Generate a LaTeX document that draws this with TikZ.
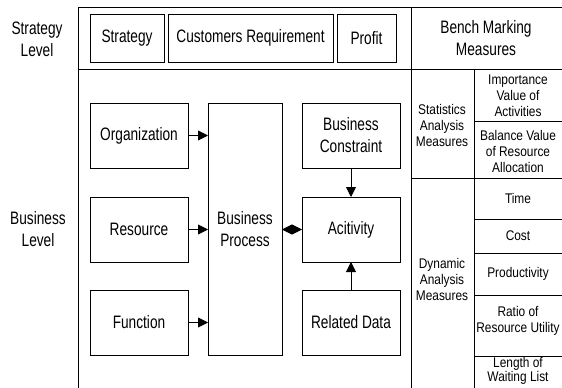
\documentclass[tikz,border=0pt]{standalone}
\usepackage{fontspec}
\setmainfont{Liberation Sans}[FakeStretch=0.76]
\newfontfamily\narrowfont{Liberation Sans}[FakeStretch=0.85]
\usepackage{tikz}
\usetikzlibrary{shapes, arrows.meta, positioning}

\newcommand{\bigtxt}{\fontsize{18}{22}\selectfont}
\newcommand{\smalltxt}{\narrowfont\fontsize{14}{16}\selectfont}
\newcommand{\tighttxt}{\narrowfont\fontsize{14}{14}\selectfont}

\tikzset{
  box/.style={draw, inner sep=0pt, outer sep=0pt, align=center, font=\bigtxt},
  label/.style={inner sep=0pt, align=center, font=\bigtxt},
  cell/.style={inner sep=0pt, align=center, font=\smalltxt},
  tip/.tip={Triangle[length=10pt,width=10pt]},
  link/.style={-tip},
}

\begin{document}
\begin{tikzpicture}[x=1pt, y=-1pt, line width=0.9pt]
        \useasboundingbox (0,0) rectangle (562,388);

        % frame and table lines
        \draw (562,7) -- (78,7) -- (78,388);
        \draw (78,69) -- (562,69);
        \draw (411,7) -- (411,388);
        \draw (474,69) -- (474,388);
        \draw (411,178) -- (562,178);
        \foreach \y in {121,219,253,295,356}
            \draw (474,\y) -- (562,\y);

        % level labels
        \node[label] (stratlvl) at (37,39) {Strategy\\Level};
        \node[label] (buslvl) at (38,229) {Business\\Level};

        % strategy level
        \node[box, minimum width=74, minimum height=48] (strat) at (127,38) {Strategy};
        \node[box, minimum width=165, minimum height=48] (cust) at (250.5,38) {Customers Requirement};
        \node[box, minimum width=59, minimum height=48] (profit) at (366.5,38) {Profit};

        % business level
        \node[box, minimum width=98, minimum height=65] (org) at (139,135.5) {Organization};
        \node[box, minimum width=98, minimum height=65] (res) at (139,229.5) {Resource};
        \node[box, minimum width=98, minimum height=65] (func) at (139,322.5) {Function};
        \node[box, minimum width=74, minimum height=252] (bp) at (245,229) {Business\\Process};
        \node[box, minimum width=98, minimum height=65] (cons) at (351,135.5) {Business\\Constraint};
        \node[box, minimum width=98, minimum height=65] (act) at (351,229.5) {Acitivity};
        \node[box, minimum width=98, minimum height=65] (rel) at (351,322.5) {Related Data};

        \draw[link] (org.east) -- (org.east -| bp.west);
        \draw[link] (res.east) -- (res.east -| bp.west);
        \draw[link] (func.east) -- (func.east -| bp.west);
        \draw[tip-tip] (act.west -| bp.east) -- (act.west);
        \draw[link] (cons) -- (act);
        \draw[link] (rel) -- (act);

        % bench marking measures
        \node[label] (bench) at (486,38) {Bench Marking\\Measures};
        \node[cell] (stat) at (442,125.5) {Statistics\\Analysis\\Measures};
        \node[cell] (dyn) at (442,279) {Dynamic\\Analysis\\Measures};
        \node[cell] (imp) at (518,95.5) {Importance\\Value of\\Activities};
        \node[cell] (bal) at (518,151) {Balance Value\\of Resource\\Allocation};
        \node[cell] (time) at (518,198.5) {Time};
        \node[cell] (cost) at (518,236) {Cost};
        \node[cell] (prod) at (518,274) {Productivity};
        \node[cell] (ratio) at (518,321) {Ratio of\\Resource Utility};
        \node[cell, font=\tighttxt] (len) at (518,371) {Length of\\Waiting List};
\end{tikzpicture}
\end{document}
